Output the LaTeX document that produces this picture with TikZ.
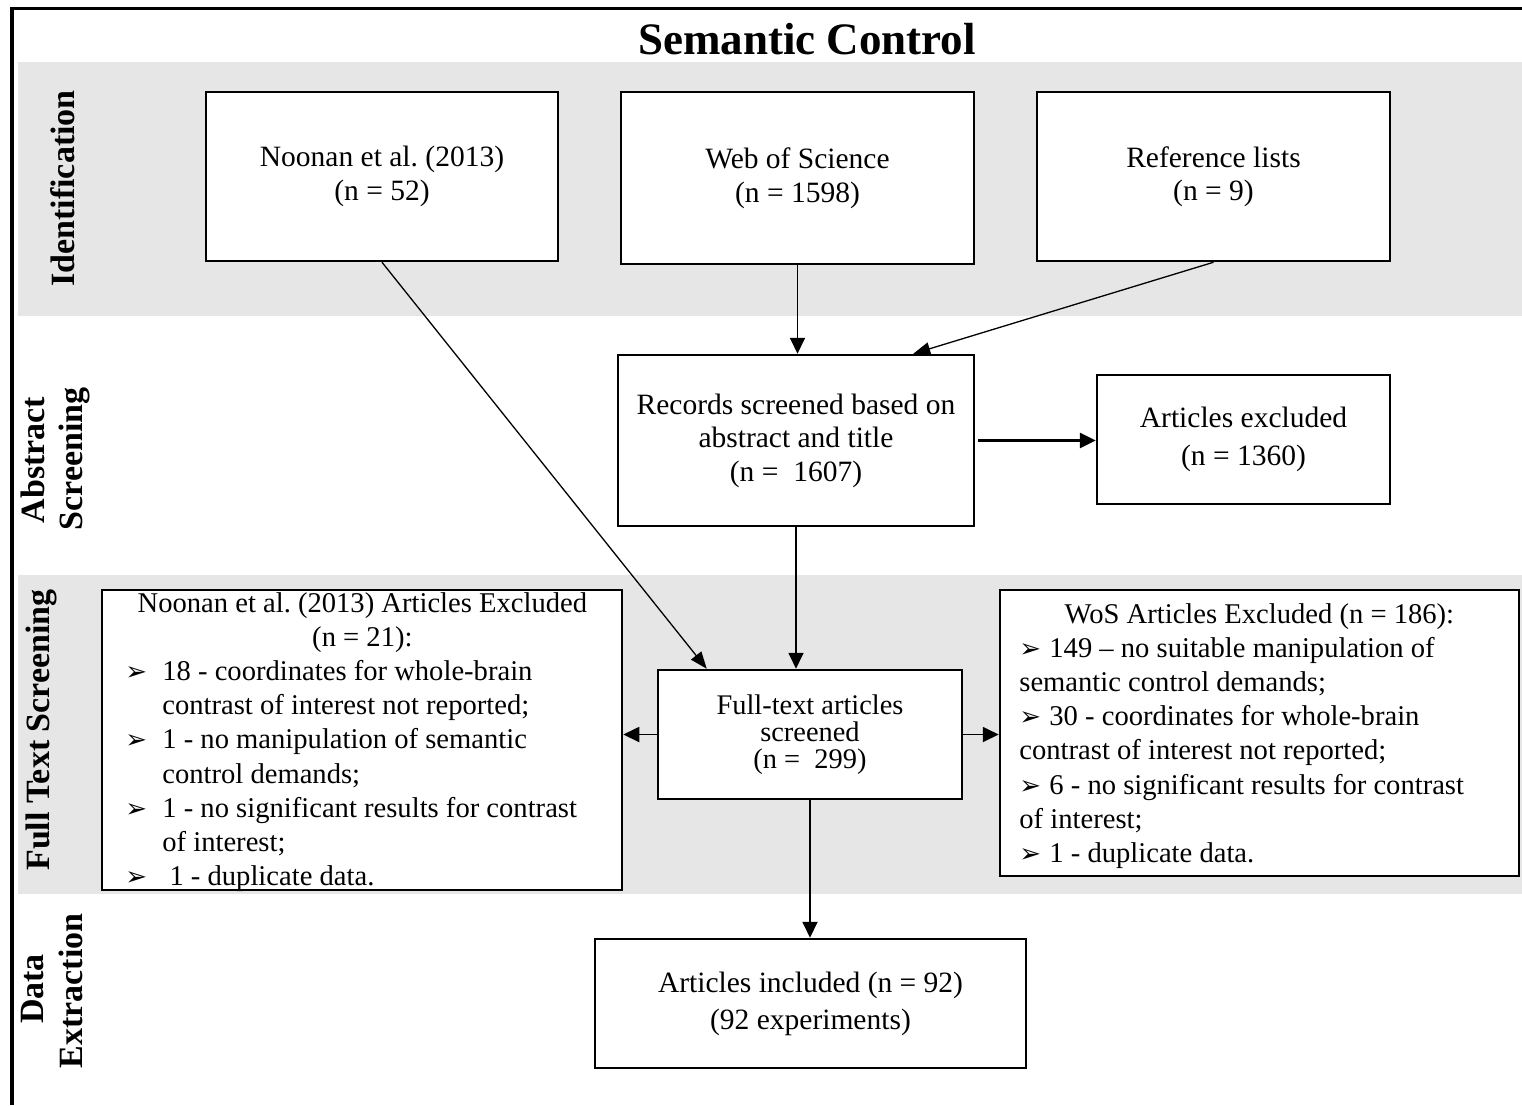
\documentclass[tikz,border=0pt]{standalone}
\usepackage{fontspec}
\setmainfont{Liberation Serif}
\newfontfamily\dingfont{DejaVu Sans}
\usetikzlibrary{arrows.meta}
\definecolor{bandgrey}{RGB}{230,230,230}
\frenchspacing
% list bullet and list fonts
\newcommand\arrowbullet{{\dingfont\fontsize{13}{13}\selectfont ➢}}
\newcommand\nbul{\makebox[18.5pt][l]{\arrowbullet}}
\newcommand\wbul{\makebox[15pt][l]{\arrowbullet}}
\newcommand\exfont{\fontsize{14.3}{17.1}\selectfont}

\begin{document}
\begin{tikzpicture}[x=0.5pt,y=-0.5pt,
  box/.style={draw, line width=1.25pt, fill=white, align=center, inner sep=0pt,
              font=\fontsize{14.75}{16.75}\selectfont},
  emptybox/.style={draw, line width=1.25pt, fill=white, inner sep=0pt},
  side/.style={rotate=90, anchor=base, inner sep=0pt,
               font=\fontsize{17}{20}\selectfont\bfseries},
  flow/.style={-{Triangle[length=8pt,width=7.5pt]}, line width=0.9pt},
  thinflow/.style={-{Triangle[length=8.5pt,width=6.5pt]}, line width=0.65pt},
  boldflow/.style={-{Triangle[length=8pt,width=7.5pt]}, line width=1.5pt}]
\useasboundingbox (0,0) rectangle (1522,1105);

% stage bands
\fill[bandgrey] (18,62) rectangle (1522,316);
\fill[bandgrey] (18,575) rectangle (1522,894);

% frame
\draw[line width=1.6pt] (12,1105) -- (12,8.5) -- (1522,8.5);

% title
\node[anchor=base, inner sep=0pt, font=\fontsize{22.5}{27}\selectfont\bfseries] (title) at (807,54) {Semantic Control};

% stage labels
\node[side] (lblId) at (75,188.5) {Identification};
\node[side] (lblAbsA) at (45,460) {Abstract};
\node[side] (lblAbsB) at (82,459) {Screening};
\node[side] (lblFull) at (49,730) {Full Text Screening};
\node[side] (lblDataA) at (43,989) {Data};
\node[side] (lblDataB) at (82,991) {Extraction};

% sources
\node[box, minimum width=176pt, minimum height=84.5pt] (noonan) at (382,176.5) {Noonan et al. (2013)\\(n = 52)};
\node[box, minimum width=176.5pt, minimum height=86pt] (wos) at (797.5,178) {Web of Science\\(n = 1598)};
\node[box, minimum width=176.5pt, minimum height=84.5pt] (ref) at (1213.5,176.5) {Reference lists\\(n = 9)};

% abstract screening
\node[box, minimum width=178pt, minimum height=85.5pt] (records) at (796,440.5) {Records screened based on\\abstract and title\\(n =\ \ 1607)};
\node[box, minimum width=146.5pt, minimum height=64.5pt, font=\fontsize{14.75}{19}\selectfont] (excl) at (1243.5,439.5) {Articles excluded\\(n = 1360)};

% full text screening
\node[emptybox, minimum width=260pt, minimum height=150pt] (nexcl) at (362,740) {};
\node[anchor=base west, inner sep=0pt] (nexclText) at (125,612) {\parbox[t]{237pt}{\exfont
\makebox[\linewidth]{Noonan et al. (2013) Articles Excluded}\\
\makebox[\linewidth]{(n = 21):}\\
\nbul 18 - coordinates for whole-brain\\
\hspace*{18.5pt}contrast of interest not reported;\\
\nbul 1 - no manipulation of semantic\\
\hspace*{18.5pt}control demands;\\
\nbul 1 - no significant results for contrast\\
\hspace*{18.5pt}of interest;\\
\nbul\ 1 - duplicate data.}};

\node[box, minimum width=152pt, minimum height=64.5pt, font=\fontsize{14.2}{13.6}\selectfont] (ft) at (810,734.5) {Full-text articles\\screened\\(n =\ \ 299)};

\node[emptybox, minimum width=259.5pt, minimum height=143pt] (wexcl) at (1259.5,733) {};
\node[anchor=base west, inner sep=0pt] (wexclText) at (1019,623) {\parbox[t]{240pt}{\exfont
\makebox[\linewidth]{WoS Articles Excluded (n = 186):}\\
\wbul 149 – no suitable manipulation of\\
semantic control demands;\\
\wbul 30 - coordinates for whole-brain\\
contrast of interest not reported;\\
\wbul 6 - no significant results for contrast\\
of interest;\\
\wbul 1 - duplicate data.}};

% data extraction
\node[box, minimum width=215.5pt, minimum height=64.5pt, font=\fontsize{14.75}{18.5}\selectfont] (inc) at (810.5,1003.5) {Articles included (n = 92)\\(92 experiments)};

% connectors
\draw[thinflow] (noonan.south) -- ([xshift=25pt]ft.north west);
\draw[flow] (wos.south) -- (wos.south |- records.north);
\draw[thinflow] (ref.south) -- ([xshift=-31pt]records.north east);
\draw[flow] (records.south) -- (records.south |- ft.north);
\draw[boldflow] ([xshift=1.5pt]records.east) -- (records.east -| excl.west);
\draw[flow] (ft.west) -- (ft.west -| nexcl.east);
\draw[flow] (ft.east) -- (ft.east -| wexcl.west);
\draw[flow] (ft.south) -- (ft.south |- inc.north);
\end{tikzpicture}
\end{document}
